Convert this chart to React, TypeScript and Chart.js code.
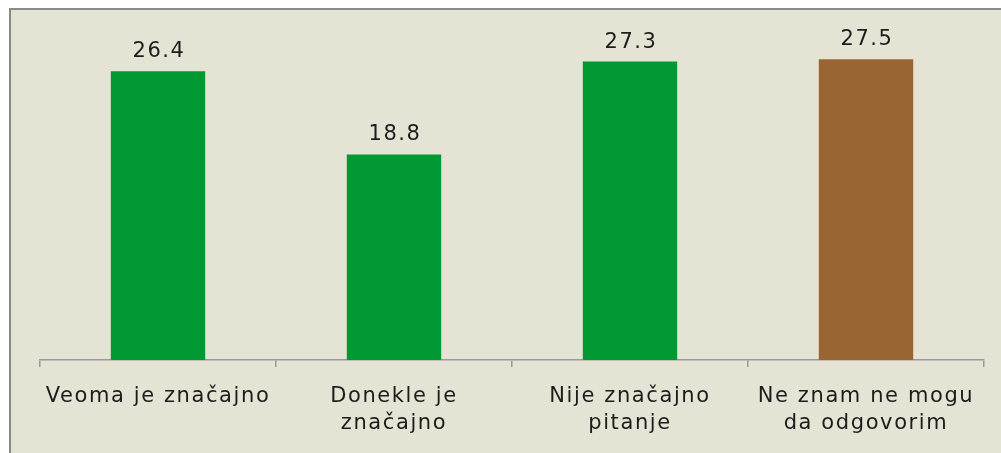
import React, { useEffect, useRef } from "react";
import { Chart, registerables } from "chart.js";

Chart.register(...registerables);

const categories: string[][] = [
  ["Veoma je značajno"],
  ["Donekle je", "značajno"],
  ["Nije značajno", "pitanje"],
  ["Ne znam ne mogu", "da odgovorim"],
];
const values: number[] = [26.4, 18.8, 27.3, 27.5];
const barColors: string[] = ["#009933", "#009933", "#009933", "#996633"];
const yMax = 30;

const FONT = "'DejaVu Sans', Verdana, sans-serif";

const spacingPlugin = {
  id: "spacing",
  beforeDraw(chart: any) {
    (chart.ctx as any).letterSpacing = "1.6px";
  },
};

const valueLabels = {
  id: "valueLabels",
  afterDatasetsDraw(chart: any) {
    const ctx = chart.ctx;
    const meta = chart.getDatasetMeta(0);
    ctx.save();
    (ctx as any).letterSpacing = "1.6px";
    ctx.font = `21px ${FONT}`;
    ctx.fillStyle = "#1c1c1c";
    ctx.textAlign = "center";
    ctx.textBaseline = "alphabetic";
    meta.data.forEach((el: any, i: number) => {
      ctx.fillText(values[i].toFixed(1), el.x + 1, el.y - 14);
    });
    ctx.restore();
  },
};

export default function App() {
  const ref = useRef<HTMLCanvasElement | null>(null);
  useEffect(() => {
    if (!ref.current) return;
    const chart = new Chart(ref.current, {
      type: "bar",
      data: {
        labels: categories,
        datasets: [
          {
            data: values,
            backgroundColor: barColors,
            borderWidth: 0,
            barPercentage: 0.4,
            categoryPercentage: 1,
          },
        ],
      },
      options: {
        animation: false,
        responsive: false,
        events: [],
        layout: { padding: { left: 40, right: 17, top: 32, bottom: 0 } },
        plugins: { legend: { display: false }, tooltip: { enabled: false } },
        scales: {
          x: {
            offset: true,
            grid: {
              offset: true,
              display: true,
              drawOnChartArea: false,
              drawTicks: true,
              tickLength: 7,
              color: "#999999",
              lineWidth: 1.5,
            },
            border: { display: true, color: "#999999", width: 1.5 },
            ticks: {
              color: "#1c1c1c",
              font: { family: FONT, size: 21, lineHeight: "27px" },
              padding: 16,
              maxRotation: 0,
              minRotation: 0,
              autoSkip: false,
            },
          },
          y: {
            display: false,
            min: 0,
            max: yMax,
          },
        },
      },
      plugins: [spacingPlugin, valueLabels],
    });
    return () => chart.destroy();
  }, []);

  return (
    <div style={{ position: "absolute", left: 0, top: 0, width: 1001, height: 453, background: "#ffffff", overflow: "hidden" }}>
      <div
        style={{
          position: "absolute",
          left: 9,
          top: 8,
          right: 0,
          bottom: 0,
          background: "rgb(229,228,212)",
          borderLeft: "2px solid #8a8a8a",
          borderTop: "2px solid #8a8a8a",
        }}
      />
      <canvas ref={ref} width={1001} height={453} style={{ position: "absolute", left: 0, top: 0, width: 1001, height: 453 }} />
    </div>
  );
}
